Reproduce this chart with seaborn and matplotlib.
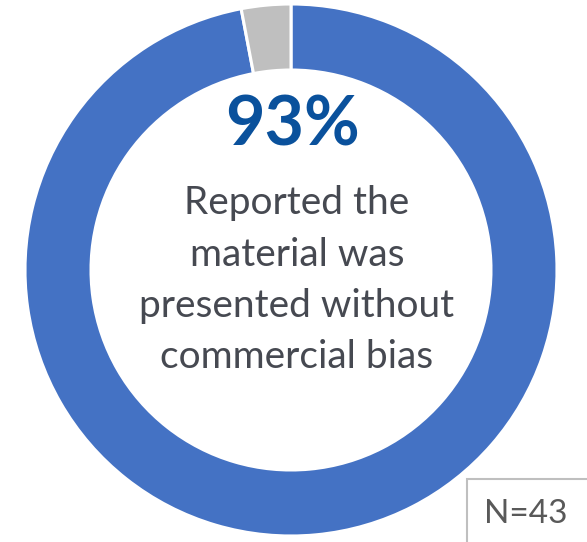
import matplotlib
matplotlib.use("Agg")
import matplotlib.pyplot as plt
import seaborn as sns

# Survey response shares shown in the ring
categories = ["Without commercial bias", "Other"]
shares = [97, 3]
colors = ["#4472C4", "#BFBFBF"]

headline = "93%"
caption_lines = ["Reported the", "material was", "presented without", "commercial bias"]
sample_label = "N=43"

sns.set_theme(style="white")
plt.rcParams["font.family"] = ["Lato", "DejaVu Sans"]

W, H = 587, 542
fig = plt.figure(figsize=(W / 100, H / 100), dpi=100)
ax = fig.add_axes([0, 0, 1, 1])

cx, cy = 291, H - 270
ax.pie(shares, colors=colors, startangle=90, counterclock=False,
       center=(cx, cy), radius=266, frame=True,
       wedgeprops=dict(width=66, edgecolor="white", linewidth=2.2))
ax.set_xlim(0, W)
ax.set_ylim(0, H)
ax.set_aspect("equal")
ax.axis("off")

ax.text(292, H - 145, headline, ha="center", va="baseline",
        fontsize=49, fontweight="bold", color="#0A519C")

baselines = [214, 266, 317, 368]
for line, b in zip(caption_lines, baselines):
    ax.text(297, H - b, line, ha="center", va="baseline",
            fontsize=28, color="#464951")

box = plt.Rectangle((467, -5), 130, H - 479 + 5, fill=True, facecolor="white",
                    edgecolor="#BFBFBF", linewidth=1.5)
ax.add_patch(box)
ax.text(526, H - 523, sample_label, ha="center", va="baseline",
        fontsize=24, color="#595959")

fig.savefig("out.png", dpi=100)
